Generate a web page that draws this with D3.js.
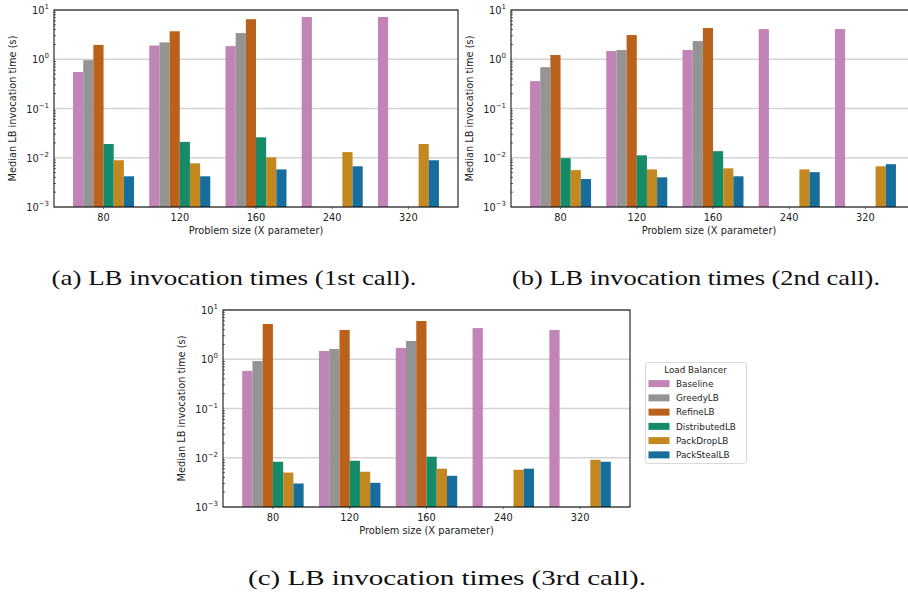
<!DOCTYPE html>
<html>
<head>
<meta charset="utf-8">
<script src="https://cdn.jsdelivr.net/npm/d3@7"></script>
<style>
  body { margin: 0; background: #fff; }
  svg { display: block; }
</style>
</head>
<body>
<svg id="fig" width="908" height="595"></svg>
<script>
// categories
const sizes = ["80", "120", "160", "240", "320"];
const balancers = ["Baseline", "GreedyLB", "RefineLB", "DistributedLB", "PackDropLB", "PackStealLB"];
const colors = ["#c283b6", "#949494", "#ba611b", "#168b6a", "#c38820", "#176d9c"];
const yTicks = [-3, -2, -1, 0, 1];

// median LB invocation time (s), one array per balancer, null = not run
const call1Baseline = [0.55, 1.9, 1.85, 7.2, 7.2];
const call1Greedy = [0.96, 2.2, 3.4, null, null];
const call1Refine = [1.95, 3.7, 6.5, null, null];
const call1Distributed = [0.019, 0.021, 0.026, null, null];
const call1PackDrop = [0.0089, 0.0077, 0.0102, 0.013, 0.019];
const call1PackSteal = [0.0042, 0.0042, 0.0058, 0.0067, 0.0089];

const call2Baseline = [0.36, 1.47, 1.54, 4.1, 4.1];
const call2Greedy = [0.69, 1.54, 2.34, null, null];
const call2Refine = [1.22, 3.1, 4.3, null, null];
const call2Distributed = [0.0098, 0.0112, 0.0136, null, null];
const call2PackDrop = [0.0056, 0.0058, 0.0061, 0.0058, 0.0067];
const call2PackSteal = [0.0037, 0.0040, 0.0042, 0.0051, 0.0074];

const call3Baseline = [0.58, 1.47, 1.70, 4.3, 3.93];
const call3Greedy = [0.92, 1.62, 2.35, null, null];
const call3Refine = [5.2, 3.93, 5.98, null, null];
const call3Distributed = [0.0083, 0.0087, 0.0105, null, null];
const call3PackDrop = [0.0050, 0.0052, 0.0060, 0.0057, 0.0091];
const call3PackSteal = [0.0030, 0.0031, 0.0043, 0.0060, 0.0083];

const captions = [
  "(a) LB invocation times (1st call).",
  "(b) LB invocation times (2nd call).",
  "(c) LB invocation times (3rd call)."
];

const panels = [
  { x0: 54, x1: 458, y0: 10, y1: 207, cx: 234, cy: 285, cw: 365,
    series: [call1Baseline, call1Greedy, call1Refine, call1Distributed, call1PackDrop, call1PackSteal] },
  { x0: 511, x1: 915, y0: 10, y1: 207, cx: 696, cy: 285, cw: 368,
    series: [call2Baseline, call2Greedy, call2Refine, call2Distributed, call2PackDrop, call2PackSteal] },
  { x0: 223, x1: 630, y0: 310, y1: 507, cx: 447, cy: 585, cw: 398,
    series: [call3Baseline, call3Greedy, call3Refine, call3Distributed, call3PackDrop, call3PackSteal] }
];

const svg = d3.select("#fig");
const sans = "DejaVu Sans, sans-serif";

panels.forEach((p, pi) => {
  const g = svg.append("g");

  const x = d3.scaleBand()
    .domain(sizes)
    .range([p.x0, p.x1])
    .paddingInner(0)
    .paddingOuter(0.15);

  const xInner = d3.scaleBand()
    .domain(balancers)
    .range([x.step() * 0.1, x.step() * 0.9]);

  const y = d3.scaleLog()
    .domain([1e-3, 10])
    .range([p.y1, p.y0]);

  // grid at decades
  g.selectAll("line.grid")
    .data(yTicks)
    .enter()
    .append("line")
    .attr("x1", p.x0)
    .attr("x2", p.x1)
    .attr("y1", (d) => y(Math.pow(10, d)))
    .attr("y2", (d) => y(Math.pow(10, d)))
    .attr("stroke", "#d4d4d4")
    .attr("stroke-width", 1.3);

  // bars
  const rows = [];
  p.series.forEach((vals, bi) => {
    vals.forEach((v, si) => {
      if (v != null) rows.push({ b: balancers[bi], s: sizes[si], v: v, c: colors[bi] });
    });
  });

  g.selectAll("rect.bar")
    .data(rows)
    .enter()
    .append("rect")
    .attr("x", (d) => x(d.s) + xInner(d.b))
    .attr("y", (d) => y(d.v))
    .attr("width", xInner.bandwidth())
    .attr("height", (d) => p.y1 - y(d.v))
    .attr("fill", (d) => d.c);

  // minor ticks, inward
  const minors = [];
  for (let e = -3; e < 1; e++) {
    for (let m = 2; m <= 9; m++) minors.push(m * Math.pow(10, e));
  }
  g.selectAll("line.minor")
    .data(minors)
    .enter()
    .append("line")
    .attr("x1", p.x0)
    .attr("x2", p.x0 + 2)
    .attr("y1", (d) => y(d))
    .attr("y2", (d) => y(d))
    .attr("stroke", "#000")
    .attr("stroke-width", 0.6);

  // frame
  g.append("rect")
    .attr("x", p.x0)
    .attr("y", p.y0)
    .attr("width", p.x1 - p.x0)
    .attr("height", p.y1 - p.y0)
    .attr("fill", "none")
    .attr("stroke", "#000")
    .attr("stroke-width", 1);

  // x ticks, small and outward
  g.selectAll("line.xt")
    .data(sizes)
    .enter()
    .append("line")
    .attr("x1", (d) => x(d) + x.step() / 2)
    .attr("x2", (d) => x(d) + x.step() / 2)
    .attr("y1", p.y1)
    .attr("y2", p.y1 + 2)
    .attr("stroke", "#444")
    .attr("stroke-width", 0.8);

  g.selectAll("text.xt")
    .data(sizes)
    .enter()
    .append("text")
    .attr("x", (d) => x(d) + x.step() / 2)
    .attr("y", p.y1 + 14)
    .attr("text-anchor", "middle")
    .attr("font-family", sans)
    .attr("font-size", 9.8)
    .attr("fill", "#222")
    .text((d) => d);

  // y tick labels 10^n
  const yl = g.selectAll("text.yt")
    .data(yTicks)
    .enter()
    .append("text")
    .attr("x", p.x0 - 5)
    .attr("y", (d) => y(Math.pow(10, d)) + 4)
    .attr("text-anchor", "end")
    .attr("font-family", sans)
    .attr("font-size", 9.8)
    .attr("fill", "#222");
  yl.append("tspan").text("10");
  yl.append("tspan")
    .attr("dy", -5)
    .attr("font-size", 7)
    .text((d) => (d < 0 ? "\u2212" + Math.abs(d) : d));

  // axis labels
  g.append("text")
    .attr("x", (p.x0 + p.x1) / 2 - (pi === 1 ? 4 : 0))
    .attr("y", p.y1 + 27)
    .attr("text-anchor", "middle")
    .attr("font-family", sans)
    .attr("font-size", 9.8)
    .attr("fill", "#222")
    .text("Problem size (X parameter)");

  g.append("text")
    .attr("transform", `translate(${p.x0 - 38},${(p.y0 + p.y1) / 2}) rotate(-90)`)
    .attr("text-anchor", "middle")
    .attr("font-family", sans)
    .attr("font-size", 9.8)
    .attr("fill", "#222")
    .text("Median LB invocation time (s)");

  // caption
  svg.append("text")
    .attr("x", p.cx)
    .attr("y", p.cy)
    .attr("text-anchor", "middle")
    .attr("font-family", "Liberation Serif, serif")
    .attr("font-size", 21)
    .attr("textLength", p.cw)
    .attr("lengthAdjust", "spacingAndGlyphs")
    .attr("fill", "#111")
    .text(captions[pi]);
});

// legend
const lg = svg.append("g").attr("transform", "translate(645,362)");
lg.append("rect")
  .attr("x", 0.5)
  .attr("y", 0.5)
  .attr("width", 101)
  .attr("height", 101)
  .attr("rx", 2)
  .attr("fill", "#fff")
  .attr("stroke", "#d0d0d0")
  .attr("stroke-width", 0.8);

lg.append("text")
  .attr("x", 50.5)
  .attr("y", 11)
  .attr("text-anchor", "middle")
  .attr("font-family", sans)
  .attr("font-size", 8.8)
  .attr("fill", "#222")
  .text("Load Balancer");

const ly = d3.scaleBand()
  .domain(balancers)
  .range([14.5, 100]);

const item = lg.selectAll("g.item")
  .data(balancers)
  .enter()
  .append("g")
  .attr("transform", (d) => `translate(0,${ly(d) + ly.bandwidth() / 2})`);

item.append("rect")
  .attr("x", 3.5)
  .attr("y", -3.5)
  .attr("width", 21)
  .attr("height", 7)
  .attr("fill", (d, i) => colors[i]);

item.append("text")
  .attr("x", 31)
  .attr("y", 3.2)
  .attr("font-family", sans)
  .attr("font-size", 8.8)
  .attr("fill", "#222")
  .text((d) => d);
</script>
</body>
</html>
